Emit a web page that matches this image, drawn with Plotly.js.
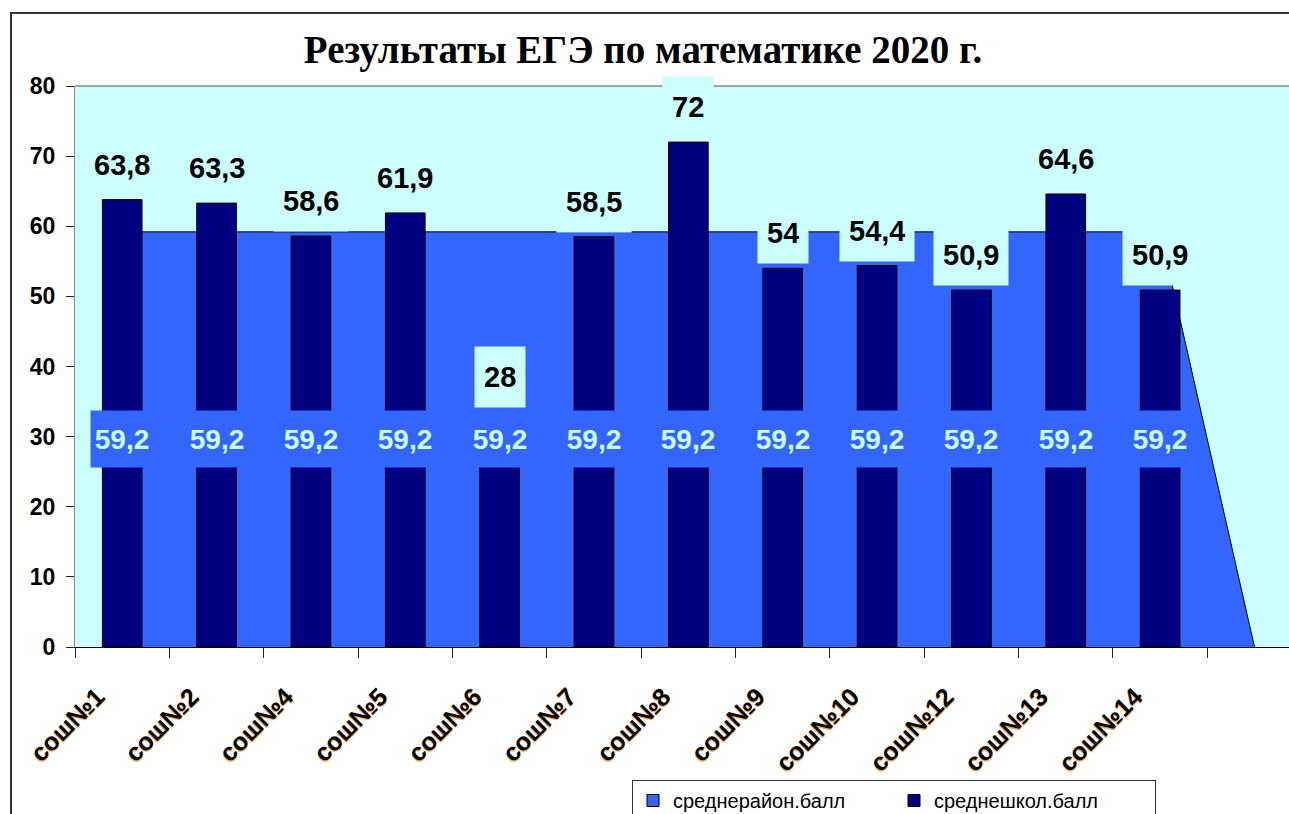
<!DOCTYPE html>
<html>
<head>
<meta charset="utf-8">
<script src="https://cdn.plot.ly/plotly-3.0.1.min.js"></script>
<style>
  html, body { margin: 0; padding: 0; background: #fff; overflow: hidden; }
  #chart { width: 1289px; height: 814px; }
</style>
</head>
<body>
<div id="chart"></div>
<script>
// ====== Data ======
var schools = ['сош№1', 'сош№2', 'сош№4', 'сош№5', 'сош№6', 'сош№7',
               'сош№8', 'сош№9', 'сош№10', 'сош№12', 'сош№13', 'сош№14'];
var schoolScores = [63.8, 63.3, 58.6, 61.9, 28, 58.5, 72, 54, 54.4, 50.9, 64.6, 50.9];
// district series has one extra (empty) category where it drops to zero
var districtCats = schools.concat([' ']);
var districtScores = [59.2, 59.2, 59.2, 59.2, 59.2, 59.2, 59.2, 59.2, 59.2, 59.2, 59.2, 59.2, 0];
var yTicks = [0, 10, 20, 30, 40, 50, 60, 70, 80];

// ====== Geometry / style ======
var W = 1289, H = 814;
var M = { l: 75, r: 0, t: 86, b: 167, autoexpand: false };
var PW = W - M.l - M.r, PH = H - M.t - M.b;
var CAT_PX = 94.36;               // width of one category slot
var YMAX = 80;
var pxPerUnit = PH / YMAX;

var CYAN = '#CCFFFF', BLUE = '#3366FF', NAVY = '#000080';
var SANS = 'Arial, Liberation Sans, sans-serif';

function fmt(v) { return String(v).replace('.', ','); }
function px2x(px) { return (px - M.l) / PW; }
function py2y(py) { return (H - M.b - py) / PH; }

// ====== Traces ======
var area = {
  x: districtCats, y: districtScores,
  type: 'scatter', mode: 'lines',
  fill: 'tozeroy', fillcolor: BLUE,
  line: { color: '#000', width: 1 },
  showlegend: false, hoverinfo: 'skip',
  xaxis: 'x', yaxis: 'y'
};
// legend entry for the district series (square swatch like the original)
var areaLegend = {
  x: [null], y: [null], type: 'bar', name: 'среднерайон.балл',
  marker: { color: BLUE, line: { color: '#000', width: 1 } },
  xaxis: 'x2', yaxis: 'y2', hoverinfo: 'skip'
};
var bars = {
  x: schools, y: schoolScores, type: 'bar', name: 'среднешкол.балл',
  width: 0.42,
  marker: { color: NAVY, line: { color: '#000', width: 1 } },
  xaxis: 'x2', yaxis: 'y2',
  hovertemplate: '%{x}: %{y}<extra></extra>'
};

// ====== Labels ======
var annotations = [];
var AREA_BOX_H = 56;
for (var i = 0; i < schools.length; i++) {
  var a = districtScores[i];
  annotations.push({
    x: schools[i], y: a / 2, xref: 'x', yref: 'y',
    text: fmt(a), showarrow: false, yanchor: 'middle',
    font: { family: SANS, size: 28, weight: 'bold', color: CYAN },
    bgcolor: BLUE, borderpad: 0, width: 62, height: AREA_BOX_H
  });
}
for (var j = 0; j < schools.length; j++) {
  var v = schoolScores[j];
  var mid = districtScores[j] / 2;
  // pixel distance of bar top above the district label centre
  var d = (v - mid) * pxPerUnit;
  var shift = 4;
  if (d > -AREA_BOX_H / 2 - 4 && d < AREA_BOX_H / 2 + 4) {
    // bar top hidden behind the district label: lift value above that box
    shift = -d + AREA_BOX_H / 2 + 3;
  }
  annotations.push({
    x: schools[j], y: v, xref: 'x', yref: 'y',
    text: fmt(v), showarrow: false, yanchor: 'bottom', yshift: shift,
    font: { family: SANS, size: 29, weight: 'bold', color: '#000' },
    bgcolor: CYAN, borderpad: 9, height: 42
  });
}

// ====== Layout ======
// plot area runs past the right edge of the window, as in the original
var catRange = [-0.5, -0.5 + PW / CAT_PX];
var layout = {
  width: W, height: H,
  margin: M,
  paper_bgcolor: '#fff',
  plot_bgcolor: CYAN,
  title: {
    text: 'Результаты ЕГЭ по математике 2020 г.',
    xref: 'container', yref: 'container',
    x: 643 / W, y: 1 - 49 / H, xanchor: 'center', yanchor: 'middle',
    font: { family: 'Liberation Serif, Times New Roman, serif', size: 39, weight: 'bold', color: '#000' }
  },
  xaxis: {
    type: 'category', categoryorder: 'array', categoryarray: districtCats,
    range: catRange, tickson: 'boundaries',
    ticks: 'outside', ticklen: 10, tickcolor: '#222', tickwidth: 1,
    showline: true, linecolor: '#000', linewidth: 1,
    showgrid: false, zeroline: false, tickangle: -45,
    ticklabelstandoff: 24, ticklabelshift: -25,
    tickfont: { family: SANS, size: 25, weight: 'bold', color: '#000',
                shadow: '-1px 1px 1px #e8a040' },
    fixedrange: true
  },
  yaxis: {
    range: [0, YMAX], tickvals: yTicks,
    ticks: 'outside', ticklen: 8, tickcolor: '#222', tickwidth: 1,
    showline: true, linecolor: '#888', linewidth: 1,
    showgrid: false, zeroline: false, ticklabelstandoff: 6,
    tickfont: { family: SANS, size: 23, weight: 'bold', color: '#000' },
    fixedrange: true
  },
  xaxis2: {
    type: 'category', categoryorder: 'array', categoryarray: districtCats,
    range: catRange, overlaying: 'x', visible: false, fixedrange: true
  },
  yaxis2: { range: [0, YMAX], overlaying: 'y', visible: false, fixedrange: true },
  bargap: 0,
  showlegend: true,
  legend: {
    orientation: 'h', x: px2x(632), y: py2y(780), xanchor: 'left', yanchor: 'top',
    bgcolor: '#fff', bordercolor: '#333', borderwidth: 1,
    entrywidth: 216, traceorder: 'normal', valign: 'middle',
    font: { family: SANS, size: 20, color: '#000' }
  },
  shapes: [
    // outer chart frame
    { type: 'rect', xref: 'paper', yref: 'paper', layer: 'above',
      x0: px2x(11), x1: px2x(W + 20), y0: py2y(H + 20), y1: py2y(13),
      line: { color: '#333', width: 2 } },
    // top edge of plot area
    { type: 'line', xref: 'paper', yref: 'paper', layer: 'below',
      x0: 0, x1: 1, y0: 1, y1: 1, line: { color: '#888', width: 1.5 } }
  ],
  annotations: annotations
};

Plotly.newPlot('chart', [area, areaLegend, bars], layout, { displayModeBar: false, staticPlot: true });
</script>
</body>
</html>
